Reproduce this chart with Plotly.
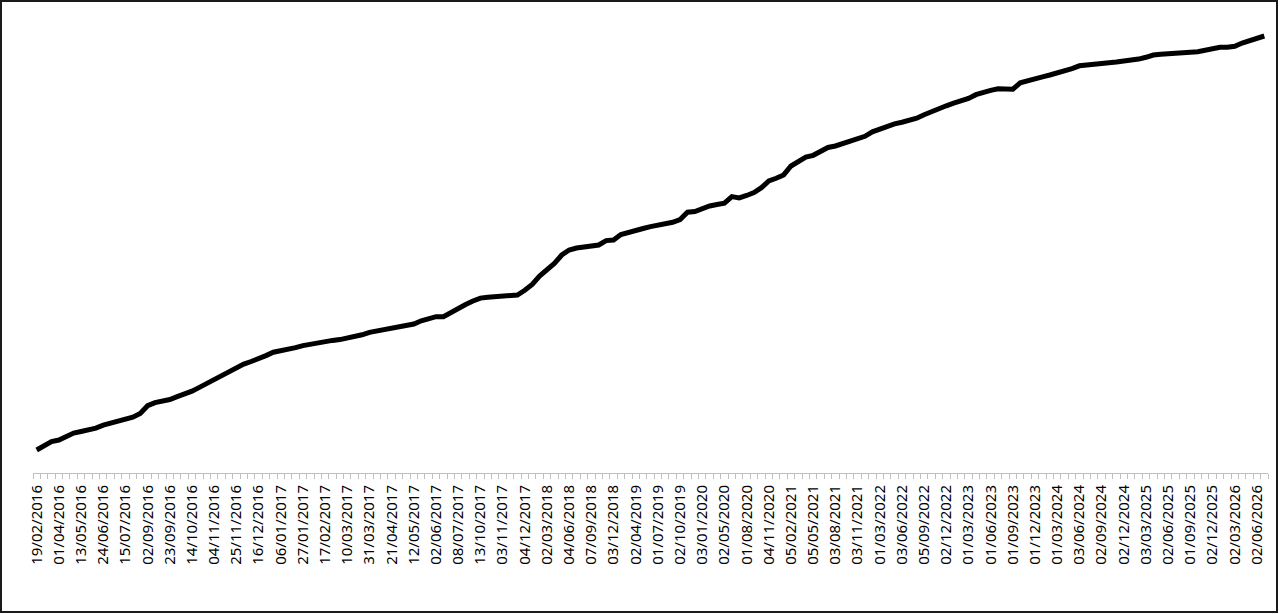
import plotly.graph_objects as go

tick_labels = [
    "19/02/2016", "01/04/2016", "13/05/2016", "24/06/2016", "15/07/2016", "02/09/2016",
    "23/09/2016", "14/10/2016", "04/11/2016", "25/11/2016", "16/12/2016", "06/01/2017",
    "27/01/2017", "17/02/2017", "10/03/2017", "31/03/2017", "21/04/2017", "12/05/2017",
    "02/06/2017", "08/07/2017", "13/10/2017", "03/11/2017", "04/12/2017", "02/03/2018",
    "04/06/2018", "07/09/2018", "03/12/2018", "02/04/2019", "01/07/2019", "02/10/2019",
    "03/01/2020", "02/05/2020", "01/08/2020", "04/11/2020", "05/02/2021", "05/05/2021",
    "03/08/2021", "03/11/2021", "01/03/2022", "03/06/2022", "05/09/2022", "02/12/2022",
    "01/03/2023", "01/06/2023", "01/09/2023", "01/12/2023", "01/03/2024", "03/06/2024",
    "02/09/2024", "02/12/2024", "03/03/2025", "02/06/2025", "01/09/2025", "02/12/2025",
    "02/03/2026", "02/06/2026",
]
label_step = 3  # a label on every third observation

values = [
    20.0, 24.6, 28.5, 30.0, 33.7, 36.9, 38.5, 40.2, 41.9, 44.9,
    47.2, 49.4, 51.1, 52.8, 56.5, 64.3, 67.4, 68.7, 70.5, 73.4,
    76.0, 78.8, 82.6, 86.4, 89.8, 93.7, 98.8, 102.5, 105.9, 108.5,
    111.1, 114.4, 117.8, 119.0, 120.4, 122.4, 124.4, 126.0, 127.5, 128.7,
    129.6, 130.4, 131.8, 133.3, 135.2, 137.7, 139.2, 140.5, 142.2, 144.0,
    145.0, 146.0, 149.2, 151.3, 153.3, 153.3, 157.6, 162.3, 165.5, 169.0,
    171.9, 172.7, 173.4, 173.7, 174.0, 175.0, 179.7, 185.5, 194.0, 200.7,
    206.6, 215.0, 220.0, 222.0, 223.4, 223.7, 225.0, 229.4, 230.0, 235.4,
    237.8, 240.0, 241.5, 243.4, 244.7, 246.2, 247.7, 250.5, 257.8, 258.5,
    261.6, 264.0, 265.5, 266.8, 273.4, 272.1, 274.5, 277.5, 282.3, 289.1,
    291.7, 295.1, 304.0, 308.8, 312.8, 314.7, 318.8, 322.5, 324.0, 326.6,
    329.6, 331.9, 333.7, 338.2, 341.2, 343.9, 346.2, 347.8, 349.3, 351.8,
    355.2, 358.5, 361.6, 364.2, 366.8, 368.8, 371.5, 375.3, 378.0, 379.6,
    381.3, 381.1, 380.8, 387.2, 389.6, 391.5, 393.2, 395.0, 396.8, 398.7,
    401.4, 404.2, 404.7, 405.3, 406.3, 407.2, 408.0, 408.6, 409.5, 410.9,
    412.7, 415.0, 415.8, 416.6, 417.0, 417.4, 417.8, 418.2, 419.8, 422.1,
    422.7, 422.7, 423.7, 427.0, 429.0, 431.4, 434.0,
]

x_idx = list(range(len(values)))
tick_positions = [i * label_step for i in range(len(tick_labels))]

W, H = 1280, 614
L, R, T, B = 33, 12, 6, 141
plot_w = W - L - R
plot_h = H - T - B

fig = go.Figure()
fig.add_trace(go.Scatter(
    x=x_idx, y=values, mode="lines",
    line=dict(color="#000000", width=5),
    hoverinfo="skip", showlegend=False,
))

def px_to_paper_x(p):
    return (p - L) / plot_w

def px_to_paper_y(p):
    return (H - B - p) / plot_h

fig.add_shape(
    type="rect", xref="paper", yref="paper",
    x0=px_to_paper_x(1), x1=px_to_paper_x(1277),
    y0=px_to_paper_y(612), y1=px_to_paper_y(1),
    line=dict(color="#1a1a1a", width=2), fillcolor="rgba(0,0,0,0)", layer="above",
)

fig.update_layout(
    width=W, height=H, autosize=False,
    margin=dict(l=L, r=R, t=T, b=B, pad=0),
    paper_bgcolor="white", plot_bgcolor="white",
    xaxis=dict(
        range=[-0.5, len(values) - 0.5],
        tickmode="array", tickvals=tick_positions, ticktext=tick_labels,
        tickangle=-90,
        ticks="outside", ticklen=5, tickcolor="rgba(0,0,0,0)",
        tickfont=dict(family="Noto Sans", size=15, color="#000000"),
        showline=True, linecolor="#bfbfbf", linewidth=1,
        showgrid=False, zeroline=False,
        minor=dict(tickmode="linear", tick0=-0.5, dtick=1, ticks="outside",
                   ticklen=5, tickcolor="#bfbfbf", tickwidth=1, showgrid=False),
        fixedrange=True,
    ),
    yaxis=dict(
        range=[-3, 464], visible=False, showgrid=False, zeroline=False, fixedrange=True,
    ),
)

fig.write_html("out.html")
